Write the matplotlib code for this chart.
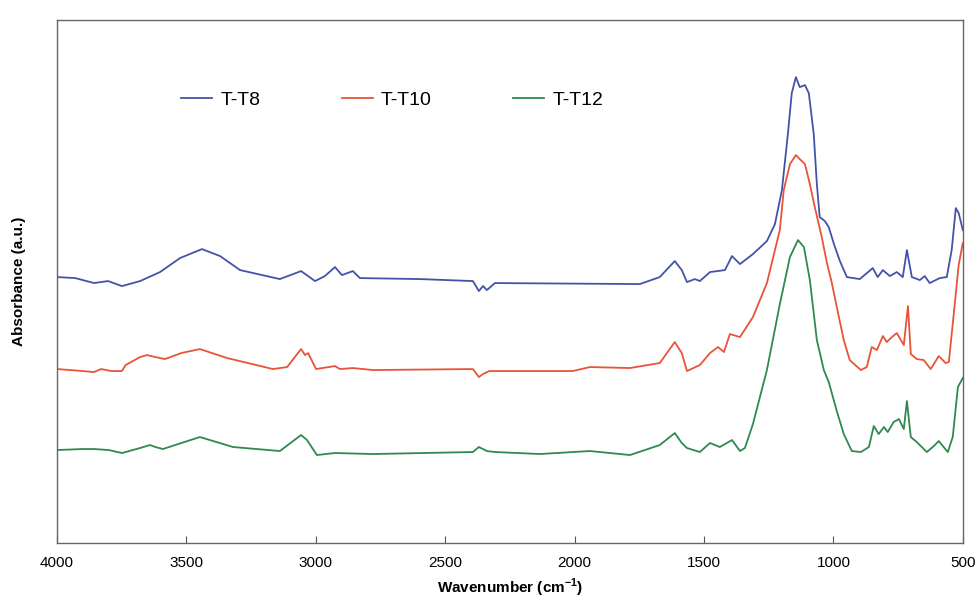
import numpy as np
import matplotlib
matplotlib.use('Agg')
import matplotlib.pyplot as plt

plt.rcParams['font.family'] = ['Liberation Sans', 'DejaVu Sans']
plt.rcParams['mathtext.fontset'] = 'custom'
plt.rcParams['mathtext.rm'] = 'Liberation Sans'
plt.rcParams['mathtext.bf'] = 'Liberation Sans:bold'

# spectra (wavenumber cm-1, absorbance a.u.)
wn_t8 = [4000, 3930, 3857, 3803, 3749, 3679, 3602, 3525, 3440, 3370, 3293, 3139, 3057, 3003,
         2965, 2926, 2899, 2857, 2830, 2598, 2393, 2370, 2354, 2339, 2308, 1748, 1671, 1613,
         1586, 1566, 1535, 1516, 1477, 1419, 1392, 1361, 1311, 1257, 1226, 1199, 1176, 1161,
         1145, 1130, 1110, 1095, 1076, 1064, 1053, 1033, 1018, 998, 975, 948, 898, 848, 829,
         809, 782, 755, 732, 716, 697, 666, 647, 628, 589, 562, 543, 527, 516, 500]
ab_t8 = [266, 265, 260, 262, 257, 262, 271, 285, 294, 287, 273, 264, 272, 262,
         267, 276, 268, 272, 265, 264, 262, 252, 257, 253, 260, 259, 266, 282,
         273, 261, 264, 262, 271, 273, 287, 279, 289, 302, 319, 353, 409, 450,
         466, 456, 458, 450, 409, 359, 326, 322, 316, 299, 282, 266, 264, 275, 266,
         273, 267, 271, 266, 293, 266, 263, 267, 260, 265, 266, 293, 335, 330, 313]

wn_t10 = [4000, 3900, 3857, 3830, 3790, 3749, 3735, 3679, 3652, 3620, 3583, 3520, 3448, 3343,
          3166, 3111, 3057, 3042, 3030, 2999, 2926, 2907, 2857, 2779, 2393, 2370, 2354, 2330,
          2007, 1941, 1786, 1671, 1613, 1586, 1566, 1516, 1477, 1446, 1423, 1400, 1361, 1311,
          1257, 1226, 1207, 1192, 1168, 1145, 1130, 1110, 1091, 1072, 1045, 1025, 1006, 987,
          960, 937, 894, 871, 852, 832, 809, 794, 774, 755, 728, 712, 701, 678, 651, 624,
          593, 566, 554, 535, 516, 500]
ab_t10 = [174, 172, 171, 174, 172, 172, 178, 186, 188, 186, 184, 190, 194, 185,
          174, 176, 194, 188, 190, 174, 177, 174, 175, 173, 174, 166, 169, 172,
          172, 176, 175, 180, 201, 190, 172, 178, 190, 196, 191, 209, 206, 226,
          260, 293, 313, 353, 379, 388, 384, 379, 359, 336, 306, 280, 260, 236,
          203, 183, 173, 176, 196, 193, 207, 201, 206, 210, 198, 237, 189, 184, 183, 174,
          187, 180, 181, 229, 278, 300]

wn_t12 = [4000, 3900, 3857, 3800, 3749, 3679, 3641, 3620, 3591, 3520, 3448, 3320, 3139, 3057,
          3034, 2996, 2926, 2779, 2393, 2370, 2339, 2308, 2134, 1941, 1786, 1671, 1613, 1586,
          1566, 1516, 1477, 1439, 1392, 1361, 1342, 1311, 1257, 1207, 1168, 1137, 1114, 1091,
          1064, 1037, 1018, 987, 960, 929, 894, 863, 844, 825, 805, 790, 767, 747, 728, 716,
          701, 678, 639, 612, 593, 558, 539, 519, 500]
ab_t12 = [93, 94, 94, 93, 90, 95, 98, 96, 94, 100, 106, 96, 92, 108,
          103, 88, 90, 89, 91, 96, 92, 91, 89, 92, 88, 98, 110, 100,
          95, 91, 100, 96, 103, 92, 95, 119, 173, 239, 286, 303, 296, 263,
          203, 173, 161, 132, 109, 92, 91, 96, 117, 109, 116, 111, 121, 124, 114, 142,
          106, 101, 91, 97, 102, 91, 106, 156, 165]

labels = ['T-T8', 'T-T10', 'T-T12']
colors = ['#4353a8', '#e8533a', '#2e8a4e']

fig = plt.figure(figsize=(9.75, 6.01), dpi=100)
ax = fig.add_axes([0.0585, 0.0965, 0.929, 0.870])

series = [(wn_t8, ab_t8), (wn_t10, ab_t10), (wn_t12, ab_t12)]
for (wn, ab), lab, c in zip(series, labels, colors):
    ax.plot(wn, np.array(ab) / 1000.0, color=c, lw=1.3, label=lab)

ax.set_xlim(4000, 500)
ax.set_ylim(0, 0.523)
ax.set_xticks([4000, 3500, 3000, 2500, 2000, 1500, 1000, 500])
ax.set_yticks([])
ax.tick_params(axis='x', direction='in', length=5, labelsize=11, pad=9, color='#555555')
for s in ax.spines.values():
    s.set_color('#666666')
    s.set_linewidth(1.0)

ax.set_xlabel(r'Wavenumber (cm$^{\mathbf{-1}}$)', fontsize=11, fontweight='bold', labelpad=5)
ax.set_ylabel('Absorbance (a.u.)', fontsize=11, fontweight='bold', labelpad=22)

ax.legend(loc='center', bbox_to_anchor=(0.37, 0.847), ncol=3, frameon=False,
          fontsize=14, handlelength=1.6, handletextpad=0.4, columnspacing=4.2)

fig.savefig('out.png', dpi=100)
